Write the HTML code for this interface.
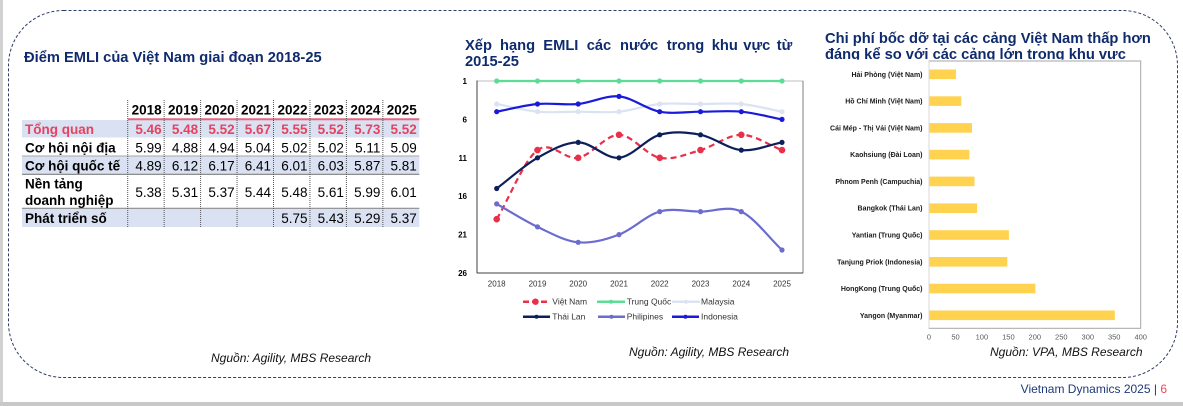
<!DOCTYPE html>
<html><head><meta charset="utf-8"><style>
html,body{margin:0;padding:0;background:#fff;}
svg{display:block;font-family:"Liberation Sans","Noto Sans CJK SC",sans-serif;}
</style></head><body>
<svg width="1183" height="406" viewBox="0 0 1183 406" xmlns="http://www.w3.org/2000/svg">
<rect x="0" y="0" width="1183" height="406" fill="#fff"/>
<rect x="0" y="0" width="3" height="406" fill="#d2d2d2"/>
<rect x="0" y="402" width="1183" height="4" fill="#c8c8c8"/>
<rect x="8.5" y="10.5" width="1169" height="367" rx="55" ry="55" fill="none" stroke="#2d3e63" stroke-width="1" stroke-dasharray="3 2"/>

<!-- LEFT: table -->
<text x="24" y="62" font-size="14.7" font-weight="bold" fill="#0f2b6e">Điểm EMLI của Việt Nam giai đoạn 2018-25</text>
<g>
<rect x="22" y="120" width="397.3" height="17.5" fill="#d9e1f2"/>
<rect x="22" y="156" width="397.3" height="18.3" fill="#d9e1f2"/>
<rect x="22" y="208.3" width="397.3" height="18.7" fill="#d9e1f2"/>
<line x1="127.7" y1="119.3" x2="419.3" y2="119.3" stroke="#e8667f" stroke-width="2"/>
<line x1="22" y1="156" x2="419.3" y2="156" stroke="#a6a6a6" stroke-width="1"/>
<line x1="22" y1="174.3" x2="419.3" y2="174.3" stroke="#7f7f7f" stroke-width="1.2"/>
<line x1="22" y1="208.3" x2="419.3" y2="208.3" stroke="#8c8c8c" stroke-width="1.2"/>
<g stroke="#555" stroke-width="1" stroke-dasharray="1 1">
<line x1="127.7" y1="100" x2="127.7" y2="227"/>
<line x1="164.15" y1="100" x2="164.15" y2="227"/>
<line x1="200.6" y1="100" x2="200.6" y2="227"/>
<line x1="237.05" y1="100" x2="237.05" y2="227"/>
<line x1="273.5" y1="100" x2="273.5" y2="227"/>
<line x1="309.95" y1="100" x2="309.95" y2="227"/>
<line x1="346.4" y1="100" x2="346.4" y2="227"/>
<line x1="382.85" y1="100" x2="382.85" y2="227"/>
</g>
<g font-size="13.5" text-anchor="end">
<g font-weight="bold" fill="#000">
<text x="161.7" y="114.5">2018</text><text x="198.1" y="114.5">2019</text><text x="234.6" y="114.5">2020</text><text x="271" y="114.5">2021</text><text x="307.5" y="114.5">2022</text><text x="343.9" y="114.5">2023</text><text x="380.4" y="114.5">2024</text><text x="416.8" y="114.5">2025</text>
</g>
<g font-weight="bold" fill="#e5435f">
<text x="161.7" y="134">5.46</text><text x="198.1" y="134">5.48</text><text x="234.6" y="134">5.52</text><text x="271" y="134">5.67</text><text x="307.5" y="134">5.55</text><text x="343.9" y="134">5.52</text><text x="380.4" y="134">5.73</text><text x="416.8" y="134">5.52</text>
</g>
<g fill="#000">
<text x="161.7" y="152.3">5.99</text><text x="198.1" y="152.3">4.88</text><text x="234.6" y="152.3">4.94</text><text x="271" y="152.3">5.04</text><text x="307.5" y="152.3">5.02</text><text x="343.9" y="152.3">5.02</text><text x="380.4" y="152.3">5.11</text><text x="416.8" y="152.3">5.09</text>
<text x="161.7" y="170.3">4.89</text><text x="198.1" y="170.3">6.12</text><text x="234.6" y="170.3">6.17</text><text x="271" y="170.3">6.41</text><text x="307.5" y="170.3">6.01</text><text x="343.9" y="170.3">6.03</text><text x="380.4" y="170.3">5.87</text><text x="416.8" y="170.3">5.81</text>
<text x="161.7" y="197">5.38</text><text x="198.1" y="197">5.31</text><text x="234.6" y="197">5.37</text><text x="271" y="197">5.44</text><text x="307.5" y="197">5.48</text><text x="343.9" y="197">5.61</text><text x="380.4" y="197">5.99</text><text x="416.8" y="197">6.01</text>
<text x="307.5" y="223">5.75</text><text x="343.9" y="223">5.43</text><text x="380.4" y="223">5.29</text><text x="416.8" y="223">5.37</text>
</g>
</g>
<g font-size="13.5" font-weight="bold">
<text x="25" y="134" fill="#e5435f">Tổng quan</text>
<text x="25" y="152.3" fill="#000">Cơ hội nội địa</text>
<text x="25" y="170.3" fill="#000">Cơ hội quốc tế</text>
<text x="25" y="188.3" fill="#000">Nền tảng</text>
<text x="25" y="205" fill="#000">doanh nghiệp</text>
<text x="25" y="223" fill="#000">Phát triển số</text>
</g>
</g>
<text x="211" y="362" font-size="12" font-style="italic" fill="#111">Nguồn: Agility, MBS Research</text>

<!-- MIDDLE: line chart -->
<g font-size="14.7" font-weight="bold" fill="#0f2b6e">
<text x="465" y="50">Xếp</text>
<text x="500" y="50">hạng</text>
<text x="543.3" y="50">EMLI</text>
<text x="586.7" y="50">các</text>
<text x="620" y="50">nước</text>
<text x="666.7" y="50">trong</text>
<text x="711.7" y="50">khu</text>
<text x="743.3" y="50">vực</text>
<text x="776.7" y="50">từ</text>
<text x="465" y="66">2015-25</text>
</g>
<rect x="477" y="81" width="326" height="192" fill="none" stroke="#bfbfbf" stroke-width="1"/>
<line x1="803" y1="81" x2="803" y2="273" stroke="#7f7f7f" stroke-width="1"/>
<line x1="477" y1="80.5" x2="477" y2="273" stroke="#404040" stroke-width="1"/>
<line x1="477" y1="273" x2="803" y2="273" stroke="#404040" stroke-width="1"/>
<g font-size="8" font-weight="bold" fill="#000" text-anchor="end">
<text x="467" y="84">1</text><text x="467" y="122.4">6</text><text x="467" y="160.8">11</text><text x="467" y="199.2">16</text><text x="467" y="237.6">21</text><text x="467" y="276">26</text>
</g>
<g font-size="8" fill="#333" text-anchor="middle">
<text x="496.7" y="286.5">2018</text><text x="537.5" y="286.5">2019</text><text x="578.2" y="286.5">2020</text><text x="619" y="286.5">2021</text><text x="659.7" y="286.5">2022</text><text x="700.5" y="286.5">2023</text><text x="741.3" y="286.5">2024</text><text x="782" y="286.5">2025</text>
</g>
<g fill="none" stroke-width="2.2" stroke-linecap="round">
<path d="M496.7,219.2 C510.3,196.17 523.9,160.33 537.5,150.1 C551.1,139.87 564.6,160.35 578.2,157.8 C591.8,155.25 605.4,134.8 619,134.8 C632.6,134.8 646.1,155.25 659.7,157.8 C673.3,160.35 686.9,153.93 700.5,150.1 C714.1,146.27 727.7,134.8 741.3,134.8 C754.9,134.8 768.4,145 782,150.1" stroke="#e8304a" stroke-dasharray="6 4" stroke-linecap="butt"/>
<path d="M496.7,81 L782,81" stroke="#5ddc96"/>
<path d="M496.7,104 C510.3,106.57 523.9,110.42 537.5,111.7 C551.1,112.98 564.6,111.7 578.2,111.7 C591.8,111.7 605.4,112.98 619,111.7 C632.6,110.42 646.1,105.28 659.7,104 C673.3,102.72 686.9,104 700.5,104 C714.1,104 727.7,102.72 741.3,104 C754.9,105.28 768.4,109.13 782,111.7" stroke="#dbe3f3"/>
<path d="M496.7,188.5 C510.3,178.27 523.9,165.48 537.5,157.8 C551.1,150.12 564.6,142.4 578.2,142.4 C591.8,142.4 605.4,159.07 619,157.8 C632.6,156.53 646.1,138.63 659.7,134.8 C673.3,130.97 686.9,132.25 700.5,134.8 C714.1,137.35 727.7,148.83 741.3,150.1 C754.9,151.37 768.4,144.97 782,142.4" stroke="#0c1f5a"/>
<path d="M496.7,203.9 C510.3,211.57 523.9,220.5 537.5,226.9 C551.1,233.3 564.6,241.02 578.2,242.3 C591.8,243.58 605.4,239.72 619,234.6 C632.6,229.48 646.1,215.43 659.7,211.6 C673.3,207.77 686.9,211.6 700.5,211.6 C714.1,211.6 727.7,205.2 741.3,211.6 C754.9,218 768.4,237.2 782,250" stroke="#6b6bd0"/>
<path d="M496.7,111.7 C510.3,109.13 523.9,105.28 537.5,104 C551.1,102.72 564.6,105.27 578.2,104 C591.8,102.73 605.4,95.12 619,96.4 C632.6,97.68 646.1,109.15 659.7,111.7 C673.3,114.25 686.9,111.7 700.5,111.7 C714.1,111.7 727.7,110.42 741.3,111.7 C754.9,112.98 768.4,116.83 782,119.4" stroke="#1a1adc"/>
</g>
<g fill="#e8304a">
<circle cx="496.7" cy="219.2" r="3.3"/><circle cx="537.5" cy="150.1" r="3.3"/><circle cx="578.2" cy="157.8" r="3.3"/><circle cx="619" cy="134.8" r="3.3"/><circle cx="659.7" cy="157.8" r="3.3"/><circle cx="700.5" cy="150.1" r="3.3"/><circle cx="741.3" cy="134.8" r="3.3"/><circle cx="782" cy="150.1" r="3.3"/>
</g>
<g fill="#5ddc96">
<circle cx="496.7" cy="81" r="2.6"/><circle cx="537.5" cy="81" r="2.6"/><circle cx="578.2" cy="81" r="2.6"/><circle cx="619" cy="81" r="2.6"/><circle cx="659.7" cy="81" r="2.6"/><circle cx="700.5" cy="81" r="2.6"/><circle cx="741.3" cy="81" r="2.6"/><circle cx="782" cy="81" r="2.6"/>
</g>
<g fill="#dbe3f3">
<circle cx="496.7" cy="104" r="2.6"/><circle cx="537.5" cy="111.7" r="2.6"/><circle cx="578.2" cy="111.7" r="2.6"/><circle cx="619" cy="111.7" r="2.6"/><circle cx="659.7" cy="104" r="2.6"/><circle cx="700.5" cy="104" r="2.6"/><circle cx="741.3" cy="104" r="2.6"/><circle cx="782" cy="111.7" r="2.6"/>
</g>
<g fill="#0c1f5a">
<circle cx="496.7" cy="188.5" r="2.6"/><circle cx="537.5" cy="157.8" r="2.6"/><circle cx="578.2" cy="142.4" r="2.6"/><circle cx="619" cy="157.8" r="2.6"/><circle cx="659.7" cy="134.8" r="2.6"/><circle cx="700.5" cy="134.8" r="2.6"/><circle cx="741.3" cy="150.1" r="2.6"/><circle cx="782" cy="142.4" r="2.6"/>
</g>
<g fill="#6b6bd0">
<circle cx="496.7" cy="203.9" r="2.6"/><circle cx="537.5" cy="226.9" r="2.6"/><circle cx="578.2" cy="242.3" r="2.6"/><circle cx="619" cy="234.6" r="2.6"/><circle cx="659.7" cy="211.6" r="2.6"/><circle cx="700.5" cy="211.6" r="2.6"/><circle cx="741.3" cy="211.6" r="2.6"/><circle cx="782" cy="250" r="2.6"/>
</g>
<g fill="#1a1adc">
<circle cx="496.7" cy="111.7" r="2.6"/><circle cx="537.5" cy="104" r="2.6"/><circle cx="578.2" cy="104" r="2.6"/><circle cx="619" cy="96.4" r="2.6"/><circle cx="659.7" cy="111.7" r="2.6"/><circle cx="700.5" cy="111.7" r="2.6"/><circle cx="741.3" cy="111.7" r="2.6"/><circle cx="782" cy="119.4" r="2.6"/>
</g>
<g stroke-width="2.5" fill="none">
<line x1="523" y1="301.7" x2="548" y2="301.7" stroke="#e8304a" stroke-dasharray="6 3"/>
<line x1="597" y1="301.7" x2="625" y2="301.7" stroke="#5ddc96"/>
<line x1="672" y1="301.7" x2="700" y2="301.7" stroke="#dbe3f3"/>
<line x1="523" y1="316.7" x2="550" y2="316.7" stroke="#0c1f5a"/>
<line x1="598" y1="316.7" x2="625" y2="316.7" stroke="#6b6bd0"/>
<line x1="672" y1="316.7" x2="699" y2="316.7" stroke="#1a1adc"/>
</g>
<circle cx="535.5" cy="301.7" r="3.2" fill="#e8304a"/>
<circle cx="611" cy="301.7" r="2" fill="#5ddc96"/>
<circle cx="686" cy="301.7" r="2" fill="#dbe3f3"/>
<circle cx="536.5" cy="316.7" r="2" fill="#0c1f5a"/>
<circle cx="611.5" cy="316.7" r="2" fill="#6b6bd0"/>
<circle cx="685.5" cy="316.7" r="2" fill="#1a1adc"/>
<g font-size="8.5" fill="#333">
<text x="552.3" y="304.7">Việt Nam</text>
<text x="626.7" y="304.7">Trung Quốc</text>
<text x="701" y="304.7">Malaysia</text>
<text x="552.3" y="319.7">Thái Lan</text>
<text x="626.7" y="319.7">Philipines</text>
<text x="701" y="319.7">Indonesia</text>
</g>
<text x="629" y="356" font-size="12" font-style="italic" fill="#111">Nguồn: Agility, MBS Research</text>

<!-- RIGHT: bar chart -->
<g font-size="14.7" font-weight="bold" fill="#0f2b6e">
<text x="825" y="43">Chi phí bốc dỡ tại các cảng Việt Nam thấp hơn</text>
<text x="825" y="59">đáng kể so với các cảng lớn trong khu vực</text>
</g>
<rect x="820" y="59.6" width="335" height="8" fill="#fff"/>
<rect x="929" y="61" width="211.7" height="267.3" fill="none" stroke="#a6a6a6" stroke-width="1"/>
<line x1="929" y1="61" x2="929" y2="328.3" stroke="#d9d9d9" stroke-width="1"/>
<g fill="#ffd24f">
<rect x="929.5" y="69.5" width="26.5" height="9.6"/>
<rect x="929.5" y="96.3" width="31.8" height="9.6"/>
<rect x="929.5" y="123.1" width="42.5" height="9.6"/>
<rect x="929.5" y="149.8" width="39.9" height="9.6"/>
<rect x="929.5" y="176.6" width="45" height="9.6"/>
<rect x="929.5" y="203.4" width="47.6" height="9.6"/>
<rect x="929.5" y="230.2" width="79.4" height="9.6"/>
<rect x="929.5" y="257" width="77.8" height="9.6"/>
<rect x="929.5" y="283.7" width="105.9" height="9.6"/>
<rect x="929.5" y="310.5" width="185.3" height="9.6"/>
</g>
<g font-size="7" font-weight="bold" fill="#1a1a1a" text-anchor="end">
<text x="922.5" y="76.8">Hải Phòng (Việt Nam)</text>
<text x="922.5" y="103.6">Hồ Chí Minh (Việt Nam)</text>
<text x="922.5" y="130.4">Cái Mép - Thị Vải (Việt Nam)</text>
<text x="922.5" y="157.1">Kaohsiung (Đài Loan)</text>
<text x="922.5" y="183.9">Phnom Penh (Campuchia)</text>
<text x="922.5" y="210.7">Bangkok (Thái Lan)</text>
<text x="922.5" y="237.5">Yantian (Trung Quốc)</text>
<text x="922.5" y="264.3">Tanjung Priok (Indonesia)</text>
<text x="922.5" y="291">HongKong (Trung Quốc)</text>
<text x="922.5" y="317.8">Yangon (Myanmar)</text>
</g>
<g font-size="7.5" fill="#595959" text-anchor="middle">
<text x="929" y="339.5">0</text><text x="955.5" y="339.5">50</text><text x="981.9" y="339.5">100</text><text x="1008.4" y="339.5">150</text><text x="1034.8" y="339.5">200</text><text x="1061.3" y="339.5">250</text><text x="1087.8" y="339.5">300</text><text x="1114.2" y="339.5">350</text><text x="1140.7" y="339.5">400</text>
</g>
<text x="990" y="356" font-size="12" font-style="italic" fill="#111">Nguồn: VPA, MBS Research</text>

<text x="1167" y="393" font-size="12" text-anchor="end" fill="#1f3a7a">Vietnam Dynamics 2025 | <tspan fill="#e8475f">6</tspan></text>
</svg>
</body></html>
